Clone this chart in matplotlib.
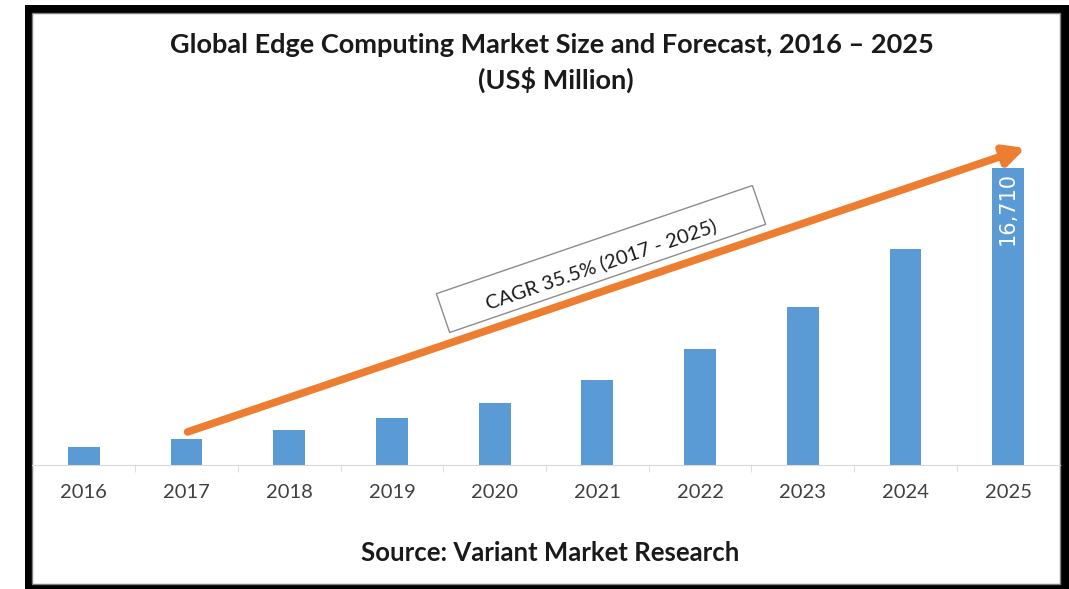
import matplotlib
matplotlib.use("Agg")
import matplotlib.pyplot as plt
from matplotlib.patches import Rectangle
from matplotlib.transforms import IdentityTransform
import numpy as np

plt.rcParams["font.family"] = ["Lato", "DejaVu Sans"]

years = ["2016", "2017", "2018", "2019", "2020", "2021", "2022", "2023", "2024", "2025"]
market = [1010, 1460, 1970, 2640, 3490, 4780, 6530, 8890, 12150, 16710]
cagr_label = "CAGR 35.5% (2017 - 2025)"

W, H = 1069, 589
fig = plt.figure(figsize=(W / 100, H / 100), dpi=100)

# black frame with thin inner line
fig.patches.append(Rectangle((25 / W, 0), 1 - 25 / W, 1 - 5 / H, transform=fig.transFigure,
                             facecolor="black", edgecolor="none", zorder=-10))
fig.patches.append(Rectangle((32 / W, 5 / H), (1060 - 32) / W, (576 - 5) / H,
                             transform=fig.transFigure, facecolor="white",
                             edgecolor="#7f7f7f", lw=1, zorder=-9))

ax = fig.add_axes([32.5 / W, 1 - 465 / H, (1059.5 - 32.5) / W, (465 - 145) / H])
ax.set_facecolor("none")
x = np.arange(len(years))
bars = ax.bar(x, market, width=0.31, color="#5b9bd5")
ax.set_xlim(-0.5, len(years) - 0.5)
ax.set_ylim(0, 18000)
ax.set_yticks([])
for s in ["left", "right", "top"]:
    ax.spines[s].set_visible(False)
ax.spines["bottom"].set_color("#d9d9d9")
ax.set_xticks(x)
ax.set_xticklabels(years, fontsize=14.5, color="#404040")
ax.tick_params(axis="x", which="major", length=0, pad=14)
ax.set_xticks(x[:-1] + 0.5, minor=True)
ax.tick_params(axis="x", which="minor", length=5, color="#d9d9d9")

# value label on last bar
ax.text(x[-1], market[-1] - 250, f"{market[-1]:,}", rotation=90, ha="center", va="top",
        color="white", fontsize=15, family="DejaVu Sans")

# CAGR arrow
ax.annotate("", xy=(9.17, 17830), xytext=(1.01, 1860),
            arrowprops=dict(arrowstyle="-|>", color="#ed7d31", lw=5.5,
                            mutation_scale=30, shrinkA=0, shrinkB=0))

# rotated CAGR box
cx, cy = 601, H - 259
bw, bh = 334, 41
fig.patches.append(Rectangle((cx - bw / 2, cy - bh / 2), bw, bh, angle=18.9,
                             rotation_point="center", transform=IdentityTransform(),
                             facecolor="white", edgecolor="#8c8c8c", lw=1, zorder=5))
fig.text(cx / W, (H - 264) / H, cagr_label, rotation=18.9, rotation_mode="anchor",
         ha="center", va="center", fontsize=14.5, color="#1a1a1a", zorder=6)

fig.text(552 / W, 1 - 45 / H, "Global Edge Computing Market Size and Forecast, 2016 – 2025",
         ha="center", va="center", fontsize=19.5, fontweight="bold", color="#1a1a1a")
fig.text(556 / W, 1 - 80 / H, "(US$ Million)", ha="center", va="center",
         fontsize=19.5, fontweight="bold", color="#1a1a1a")
fig.text(550 / W, 1 - 553 / H, "Source: Variant Market Research", ha="center", va="center",
         fontsize=18.5, fontweight="bold", color="#1a1a1a")

fig.savefig("out.png", dpi=100)
